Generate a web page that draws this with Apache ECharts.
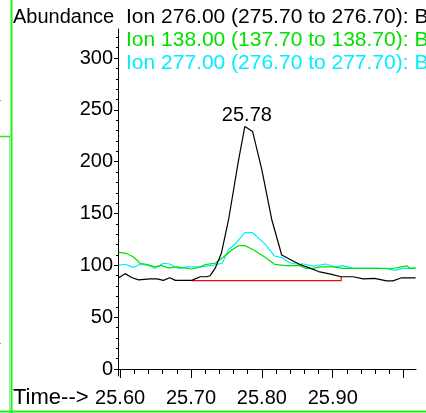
<!DOCTYPE html>
<html>
<head>
<meta charset="utf-8">
<title>Ion chromatogram</title>
<script src="https://cdn.jsdelivr.net/npm/echarts@6/dist/echarts.min.js"></script>
<style>
  html, body { margin: 0; padding: 0; background: #fff; }
  #chart { width: 426px; height: 413px; }
</style>
</head>
<body>
<div id="chart"></div>
<script>
// 离子名称 (black, green, cyan)
var ionNames = [
  'Ion 276.00 (275.70 to 276.70): B',
  'Ion 138.00 (137.70 to 138.70): B',
  'Ion 277.00 (276.70 to 277.70): B'
]
var ionColors = ['#000000', '#00e000', '#00eeff']

// Ion 276 (black)
var blackTime = [25.598, 25.607, 25.617, 25.626, 25.642, 25.652, 25.661, 25.670, 25.678, 25.687,
  25.701, 25.713, 25.722, 25.727, 25.734, 25.743, 25.753, 25.767, 25.776, 25.787,
  25.800, 25.814, 25.828, 25.842, 25.853, 25.865, 25.880, 25.897, 25.912, 25.929,
  25.943, 25.959, 25.976, 25.985, 25.997, 26.017]
var blackAbund = [88, 92, 88, 86, 87, 87, 85.5, 88, 85.5, 85.5,
  85.5, 89, 89, 90, 97, 112, 144, 201, 234, 229,
  192, 144, 110, 105, 101, 98, 94, 91.5, 89, 89,
  87, 87.5, 85, 85, 88, 88]

// Ion 138 (green)
var greenTime = [25.598, 25.609, 25.619, 25.628, 25.637, 25.649, 25.658, 25.668, 25.680, 25.689,
  25.701, 25.713, 25.722, 25.734, 25.746, 25.758, 25.767, 25.776, 25.788, 25.804,
  25.818, 25.837, 25.853, 25.862, 25.873, 25.882, 25.901, 25.915, 25.938, 25.962,
  25.983, 25.997, 26.005, 26.009, 26.017]
var greenAbund = [112.5, 111.5, 108, 102, 101, 98.5, 100, 97.5, 98.5, 97.5,
  96.5, 98.5, 101, 102, 108, 115, 119, 119, 115, 108,
  101, 99.5, 100, 97, 97, 98.5, 98.5, 97, 97, 97,
  96.7, 98.5, 99.5, 97, 97.5]

// Ion 277 (cyan)
var cyanTime = [25.598, 25.607, 25.619, 25.628, 25.639, 25.649, 25.661, 25.670, 25.682, 25.694,
  25.713, 25.732, 25.744, 25.753, 25.763, 25.776, 25.787, 25.804, 25.818, 25.828,
  25.839, 25.849, 25.859, 25.873, 25.890, 25.903, 25.914, 25.929, 25.953, 25.976,
  25.987, 25.999, 26.017]
var cyanAbund = [100.3, 101, 98, 101, 100.3, 97, 102, 101.3, 97, 98.6,
  98.6, 100.3, 102, 115, 121, 131.5, 131.5, 121, 109, 107.5,
  102.5, 101.3, 101.3, 99.3, 101.3, 98.6, 99.8, 97, 97, 97,
  95.2, 97, 97]

// 积分基线 (red)
var baseTime = [25.701, 25.912, 25.912]
var baseAbund = [85.3, 85.3, 89]

// 峰标注
var peakTime = 25.776
var peakAbund = 234
var peakLabel = '25.78'

// 坐标轴刻度
var xMajorTicks = [25.60, 25.70, 25.80, 25.90, 26.00]
var xLabelTicks = [25.60, 25.70, 25.80, 25.90]
var xMinorTicks = [25.62, 25.64, 25.66, 25.68, 25.72, 25.74, 25.76, 25.78,
  25.82, 25.84, 25.86, 25.88, 25.92, 25.94, 25.96, 25.98]
var yMajorTicks = [0, 50, 100, 150, 200, 250, 300]
var yMinorTicks = [10, 20, 30, 40, 60, 70, 80, 90, 110, 120, 130, 140, 160, 170, 180, 190,
  210, 220, 230, 240, 260, 270, 280, 290, 310, 320]

var FONT = '"Liberation Sans", Arial, sans-serif'

function zip(t, v) {
  return t.map(function(x, i) { return [x, v[i]] })
}

function lineSeries(name, color, t, v, z) {
  return {
    name: name,
    type: 'line',
    data: zip(t, v),
    showSymbol: false,
    symbol: 'none',
    z: z,
    lineStyle: { color: color, width: 1.2 },
    silent: true
  }
}

var chart = echarts.init(document.getElementById('chart'))

var black = lineSeries(ionNames[0], ionColors[0], blackTime, blackAbund, 5)
black.markPoint = {
  symbol: 'circle',
  symbolSize: 1,
  itemStyle: { color: 'rgba(0,0,0,0)' },
  label: {
    show: true,
    position: 'top',
    distance: 0,
    offset: [2, 0],
    formatter: peakLabel,
    color: '#000',
    fontSize: 20,
    fontFamily: FONT
  },
  data: [{ coord: [peakTime, peakAbund] }]
}

// 标题与边框
var graphics = [
  { type: 'text', x: 13, y: 17, style: { text: 'Abundance', fill: '#000', font: '20px ' + FONT, verticalAlign: 'middle' } },
  { type: 'text', x: 13, y: 398, style: { text: 'Time-->', fill: '#000', font: '22px ' + FONT, verticalAlign: 'middle' } },
  { type: 'line', shape: { x1: 11.5, y1: 0, x2: 11.5, y2: 413 }, style: { stroke: '#22ee22', lineWidth: 2 } },
  { type: 'line', shape: { x1: 9.5, y1: 136, x2: 9.5, y2: 413 }, style: { stroke: '#99ee99', lineWidth: 1 } },
  { type: 'line', shape: { x1: 0, y1: 136.5, x2: 10, y2: 136.5 }, style: { stroke: '#22ee22', lineWidth: 1.5 } },
  { type: 'line', shape: { x1: 0, y1: 411.5, x2: 426, y2: 411.5 }, style: { stroke: '#22ee22', lineWidth: 2 } },
  { type: 'rect', shape: { x: 0, y: 100, width: 1, height: 1 }, style: { fill: '#999' } },
  { type: 'rect', shape: { x: 0, y: 343, width: 1, height: 1 }, style: { fill: '#999' } }
]
ionNames.forEach(function(name, i) {
  graphics.push({
    type: 'text', x: 126, y: 17 + i * 23,
    style: { text: name, fill: ionColors[i], font: '21px ' + FONT, verticalAlign: 'middle' }
  })
})

var yMin = -6.75
var yMax = 328
var xMin = 25.597
var xMax = 26.0175

chart.setOption({
  animation: false,
  backgroundColor: '#fff',
  grid: { left: 118, right: 10, top: 29, bottom: 37, containLabel: false },
  xAxis: [{
    type: 'value',
    min: xMin,
    max: xMax,
    axisLine: { show: true, lineStyle: { color: '#000', width: 1 } },
    axisTick: { show: true, length: 9, customValues: xMajorTicks, lineStyle: { color: '#000' } },
    axisLabel: {
      customValues: xLabelTicks,
      color: '#000',
      fontSize: 20,
      fontFamily: FONT,
      margin: 12,
      formatter: function(v) { return v.toFixed(2) }
    },
    splitLine: { show: false }
  }, {
    // 次刻度
    type: 'value',
    min: xMin,
    max: xMax,
    position: 'bottom',
    axisLine: { show: false },
    axisTick: { show: true, length: 5, customValues: xMinorTicks, lineStyle: { color: '#000' } },
    axisLabel: { show: false },
    splitLine: { show: false }
  }],
  yAxis: [{
    type: 'value',
    min: yMin,
    max: yMax,
    axisLine: { show: true, lineStyle: { color: '#000', width: 1 } },
    axisTick: { show: true, length: 4, customValues: yMajorTicks, lineStyle: { color: '#000' } },
    axisLabel: { customValues: yMajorTicks, color: '#000', fontSize: 20, fontFamily: FONT, margin: 5 },
    splitLine: { show: false }
  }, {
    type: 'value',
    min: yMin,
    max: yMax,
    position: 'left',
    axisLine: { show: false },
    axisTick: { show: true, length: 2, customValues: yMinorTicks, lineStyle: { color: '#000' } },
    axisLabel: { show: false },
    splitLine: { show: false }
  }],
  graphic: graphics,
  series: [
    lineSeries(ionNames[2], ionColors[2], cyanTime, cyanAbund, 2),
    lineSeries(ionNames[1], ionColors[1], greenTime, greenAbund, 3),
    black,
    lineSeries('baseline', '#ff0000', baseTime, baseAbund, 4)
  ]
})
</script>
</body>
</html>
